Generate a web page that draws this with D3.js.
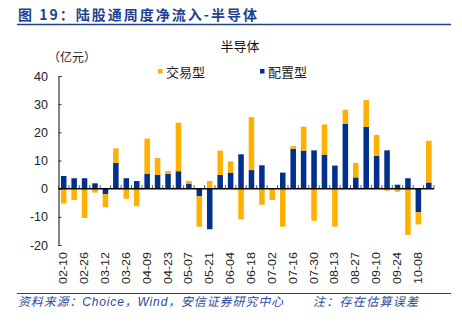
<!DOCTYPE html>
<html>
<head>
<meta charset="utf-8">
<script src="https://cdn.jsdelivr.net/npm/d3@7"></script>
<style>
  body { margin: 0; background: #fff; }
  svg { display: block; font-family: "Liberation Sans", Arial, "Noto Sans CJK SC", sans-serif; }
</style>
</head>
<body>
<svg id="chart" width="462" height="322"></svg>
<script>
// weekly categories (only every other one gets a label)
const weeks = ["02-10", "02-19", "02-26", "03-05", "03-12", "03-19", "03-26", "04-02", "04-09", "04-16",
    "04-23", "04-30", "05-07", "05-14", "05-21", "05-28", "06-04", "06-11", "06-18", "06-25",
    "07-02", "07-09", "07-16", "07-23", "07-30", "08-06", "08-13", "08-20", "08-27", "09-03",
    "09-10", "09-17", "09-24", "10-01", "10-08", "10-15"];
const tickWeeks = ["02-10", "02-26", "03-12", "03-26", "04-09", "04-23", "05-07", "05-21", "06-04",
    "06-18", "07-02", "07-16", "07-30", "08-13", "08-27", "09-10", "09-24", "10-08"];

// 配置型 (allocation) and 交易型 (trading) net inflow, 亿元
const allocation = [4.5, 3.7, 3.7, 1.9, -1.9, 9.1, 3.7, 2.7, 5.2, 4.9, 5.2, 6.2, 1.8, -2.6, -14.4, 4.9,
    5.7, 12.2, 6.6, 8.3, 0, 5.7, 14.2, 13.5, 13.6, 12.1, 8.2, 23.0, 4.0, 22.0, 11.6, 13.6, 1.4, 3.7, -8.3, 2.2];
const trading = [-5.3, -4.0, -10.4, -1.4, -4.7, 5.2, -3.6, -6.2, 12.6, 6.0, 1.1, 17.2, 0.9, -10.9, 2.7, 8.6,
    4.0, -10.9, 18.8, -5.7, -4.0, -13.5, 0.9, 8.5, -11.4, 10.7, -13.5, 5.0, 5.1, 9.5, 7.5, -0.7, -1.1, -16.4, -4.4, 14.8];

const yTicks = [40, 30, 20, 10, 0, -10, -20];
const seriesNames = ["配置型", "交易型"];
const colors = { "配置型": "#00308c", "交易型": "#ffb000" };

const svg = d3.select("#chart");
const blue = "#1f3f8f";

// header
svg.append("text")
    .attr("x", 18).attr("y", 20)
    .attr("fill", blue)
    .style("font-size", "14px").style("font-weight", "bold")
    .style("font-family", "'Noto Sans CJK SC', sans-serif")
    .attr("textLength", 239).attr("lengthAdjust", "spacing")
    .text("图 19：陆股通周度净流入-半导体");
svg.append("line").attr("x1", 17).attr("x2", 451).attr("y1", 24.5).attr("y2", 24.5)
    .attr("stroke", blue).attr("stroke-width", 1.5);

// chart title and unit
svg.append("text").attr("x", 240).attr("y", 51).attr("text-anchor", "middle")
    .style("font-size", "13px").style("font-family", "'Noto Sans CJK SC', sans-serif")
    .attr("fill", "#111").text("半导体");
svg.append("text").attr("x", 48).attr("y", 62)
    .style("font-size", "12px").style("font-family", "'Noto Sans CJK SC', sans-serif")
    .attr("fill", "#222").text("（亿元）");

const x = d3.scaleBand().domain(weeks).range([58.5, 434]).paddingInner(0.47).paddingOuter(0.235);
const y = d3.scaleLinear().domain([-20, 40]).range([245, 76]);

const table = weeks.map((w, i) => ({ week: w, "配置型": allocation[i], "交易型": trading[i] }));
const stack = d3.stack().keys(seriesNames).offset(d3.stackOffsetDiverging);
const layers = stack(table);

const g = svg.append("g");
g.selectAll("g.layer")
    .data(layers)
    .enter().append("g")
    .attr("class", "layer")
    .attr("fill", d => colors[d.key])
    .selectAll("rect")
    .data(d => d)
    .enter().append("rect")
    .attr("x", d => x(d.data.week))
    .attr("width", x.bandwidth())
    .attr("y", d => y(Math.max(d[0], d[1])))
    .attr("height", d => Math.abs(y(d[0]) - y(d[1])));

// y axis
const yAxis = svg.append("g").attr("transform", "translate(58.5,0)")
    .call(d3.axisRight(y).tickValues(yTicks).tickSize(3).tickFormat(""));
yAxis.select(".domain").attr("stroke", "#333").attr("stroke-width", 1.2);
yAxis.selectAll(".tick line").attr("stroke", "#333");
svg.append("g").selectAll("text")
    .data(yTicks)
    .enter().append("text")
    .attr("x", 48).attr("y", d => y(d) + 4.5)
    .attr("text-anchor", "end")
    .attr("fill", "#222")
    .style("font-size", "12.5px")
    .text(d => d);

// zero line with category tick marks
const step = x.step();
svg.append("g").selectAll("line")
    .data(d3.range(weeks.length + 1))
    .enter().append("line")
    .attr("x1", i => 58.5 + i * step).attr("x2", i => 58.5 + i * step)
    .attr("y1", y(0) - 3.5).attr("y2", y(0))
    .attr("stroke", "#555").attr("stroke-width", 1);
svg.append("line").attr("x1", 58.5).attr("x2", 434).attr("y1", y(0)).attr("y2", y(0))
    .attr("stroke", "#000").attr("stroke-width", 1.5);

// rotated week labels
svg.append("g").selectAll("text")
    .data(tickWeeks)
    .enter().append("text")
    .attr("transform", d => `translate(${x(d) + x.bandwidth() / 2 + 3.5},252) rotate(-90)`)
    .attr("text-anchor", "end")
    .attr("fill", "#222")
    .style("font-size", "10px")
    .attr("textLength", 32).attr("lengthAdjust", "spacingAndGlyphs")
    .text(d => d);

// legend
const legendItems = [{ name: "交易型", x: 158 }, { name: "配置型", x: 260 }];
const legend = svg.append("g").selectAll("g")
    .data(legendItems)
    .enter().append("g")
    .attr("transform", d => `translate(${d.x},69)`);
legend.append("rect").attr("width", 4.5).attr("height", 4.5).attr("fill", d => colors[d.name]);
legend.append("text").attr("x", 8).attr("y", 7.5)
    .attr("fill", "#222")
    .style("font-size", "13px").style("font-family", "'Noto Sans CJK SC', sans-serif")
    .text(d => d.name);

// footer
svg.append("line").attr("x1", 17).attr("x2", 451).attr("y1", 293.5).attr("y2", 293.5)
    .attr("stroke", blue).attr("stroke-width", 1.2);
const footer = svg.append("g")
    .attr("fill", "#2a4b9b")
    .style("font-size", "12px").style("font-style", "italic");
footer.append("text").attr("x", 18).attr("y", 306)
    .attr("textLength", 265).attr("lengthAdjust", "spacing")
    .text("资料来源：Choice，Wind，安信证券研究中心");
footer.append("text").attr("x", 313).attr("y", 306)
    .attr("textLength", 105).attr("lengthAdjust", "spacing")
    .text("注：存在估算误差");
</script>
</body>
</html>
